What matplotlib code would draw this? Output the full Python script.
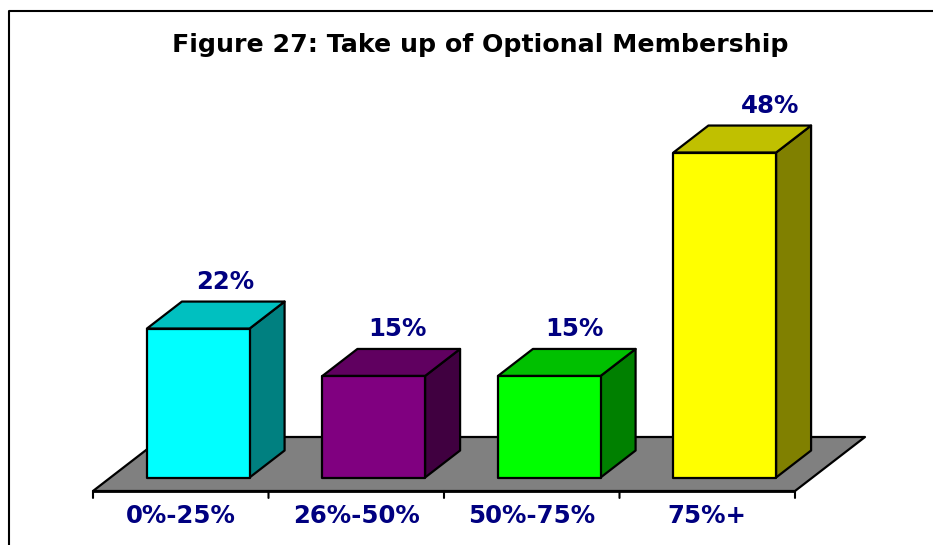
import matplotlib
matplotlib.use("Agg")
import matplotlib.pyplot as plt
from matplotlib.lines import Line2D
from matplotlib.patches import Polygon

W, H = 933, 545

# Data
categories = ["0%-25%", "26%-50%", "50%-75%", "75%+"]
values = [22, 15, 15, 48]
front_colors = ["#00FFFF", "#800080", "#00FF00", "#FFFF00"]
top_colors = ["#00C0C0", "#600060", "#00C000", "#C0C000"]
side_colors = ["#008080", "#400040", "#008000", "#808000"]
label_dx = [27, 24, 25, 45]   # px right of bar centre

# Scale of the plot
PX_X = 175.5          # px per category
PX_Y = 6.77           # px per percent
DEPTH_X, DEPTH_Y = 70, 54   # floor depth in px
BAR_W = 0.585
NAVY = "#000080"

plt.rcParams['font.family'] = ['DejaVu Sans']

fig = plt.figure(figsize=(W / 100, H / 100), dpi=100)
ax = fig.add_axes([93 / W, (H - 491) / H, 702 / W, 54 / H])
ax.set_xlim(0, 4)
ax.set_ylim(0, 54 / PX_Y)
ax.axis("off")


def pt(x, pct, depth):
    # oblique projection: depth 0 is the front of the floor, 1 the back
    return (x + depth * DEPTH_X / PX_X, pct + depth * DEPTH_Y / PX_Y)


def face(points, color, z):
    ax.add_patch(Polygon(points, closed=True, facecolor=color, edgecolor="black",
                         linewidth=1.6, joinstyle="round", clip_on=False, zorder=z))


# Floor
face([pt(0, 0, 0), pt(4, 0, 0), pt(4, 0, 1), pt(0, 0, 1)], "#808080", 1)

# Bars
for i, v in enumerate(values):
    x0 = i + 0.5 - BAR_W / 2
    x1 = x0 + BAR_W
    d0, d1 = 0.25, 0.75
    face([pt(x1, 0, d0), pt(x1, 0, d1), pt(x1, v, d1), pt(x1, v, d0)], side_colors[i], 3 + i)
    face([pt(x0, v, d0), pt(x1, v, d0), pt(x1, v, d1), pt(x0, v, d1)], top_colors[i], 3 + i)
    face([pt(x0, 0, d0), pt(x1, 0, d0), pt(x1, v, d0), pt(x0, v, d0)], front_colors[i], 3 + i)
    ax.annotate(f"{v}%", xy=pt(i + 0.5, v, 0.25), xytext=(label_dx[i] * 0.72, 47 * 0.72),
                textcoords="offset points", ha="center", va="center", color=NAVY,
                fontsize=17.6, fontweight="bold", zorder=10, annotation_clip=False)

# Front axis line, ticks, category labels
ax.plot([0, 4], [0, 0], color="black", lw=2, clip_on=False, zorder=2, solid_capstyle="butt")
for i in range(5):
    ax.annotate("", xy=(i, 0), xytext=(0, -5), textcoords="offset points",
                annotation_clip=False,
                arrowprops=dict(arrowstyle="-", color="black", lw=1.5, shrinkA=0, shrinkB=0))
for i, name in enumerate(categories):
    ax.annotate(name, xy=(i + 0.5, 0), xytext=(0, -18), textcoords="offset points",
                ha="center", va="center", color=NAVY, fontsize=17.6, fontweight="bold",
                annotation_clip=False)

fig.text(480 / W, 1 - 45 / H, "Figure 27: Take up of Optional Membership", ha="center", va="center",
         color="black", fontsize=18.2, fontweight="bold")

# Chart frame, cut off on the right and at the bottom
fig.add_artist(Line2D([9 / W, 9 / W, 1], [0, 1 - 10.5 / H, 1 - 10.5 / H], color="black", lw=1.5))

fig.savefig("out.png", dpi=100, facecolor="white")
